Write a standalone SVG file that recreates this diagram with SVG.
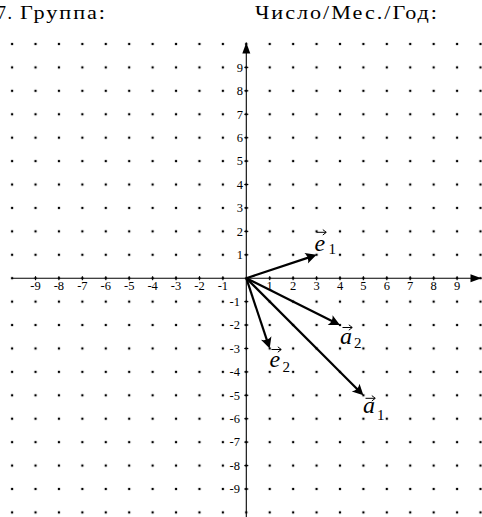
<svg xmlns="http://www.w3.org/2000/svg" width="482" height="517" viewBox="0 0 482 517">
<style>
.hdr{font-family:"Liberation Serif","DejaVu Serif",serif;font-size:18px;letter-spacing:1.6px;fill:#000}
.tk{font-family:"Liberation Serif","DejaVu Serif",serif;font-size:12.5px;fill:#000}
.xl{text-anchor:middle}
.yl{text-anchor:end}
.vl{font-family:"Liberation Serif","DejaVu Serif",serif;font-style:italic;font-size:24px;fill:#000}
.sb{font-family:"Liberation Serif","DejaVu Serif",serif;font-size:15px;fill:#000}
.axis{stroke:#000;stroke-width:1.1;fill:none}
.tick{stroke:#000;stroke-width:1;fill:none}
.vec{stroke:#000;stroke-width:2.2;fill:none;marker-end:url(#stealth)}
.acc{stroke:#000;stroke-width:1;fill:none}
</style>
<defs>
<pattern id="dots" patternUnits="userSpaceOnUse" x="0.39" y="32.29" width="23.42" height="23.42">
<rect x="10.61" y="10.61" width="2.2" height="2.2" fill="#000"/>
</pattern>
<marker id="axarrow" markerUnits="userSpaceOnUse" viewBox="-12 -5 13 10" refX="0" refY="0" markerWidth="13" markerHeight="10" orient="auto">
<path d="M0,0 L-11,-4 L-11,4 Z" fill="#000"/>
</marker>
<marker id="stealth" markerUnits="userSpaceOnUse" viewBox="-1 -7 14 14" refX="7" refY="0" markerWidth="14" markerHeight="14" orient="auto">
<path d="M11,0 L0,-5.5 Q3.5,0 0,5.5 Z" fill="#000"/>
</marker>
<g id="accent">
<path class="acc" d="M0,0 H9.5 M6.3,-2.7 L9.8,0 L6.3,2.7"/>
</g>
</defs>
<rect width="482" height="517" fill="#fff"/>

<g id="header">
<text class="hdr" x="-3" y="19">7.</text>
<text class="hdr" x="20" y="19" textLength="87" lengthAdjust="spacingAndGlyphs">Группа:</text>
<text class="hdr" x="255" y="19" textLength="184" lengthAdjust="spacingAndGlyphs">Число/Мес./Год:</text>
</g>

<g id="grid">
<rect x="0" y="32" width="482" height="485" fill="url(#dots)"/>
</g>

<g id="axes">
<path class="axis" d="M12.1,278.2 H481.5" marker-end="url(#axarrow)"/>
<path class="axis" d="M246.3,517 V42.5" marker-end="url(#axarrow)"/>
<path class="tick" d="M35.5,276.2v4 M58.9,276.2v4 M82.4,276.2v4 M105.8,276.2v4 M129.2,276.2v4 M152.6,276.2v4 M176,276.2v4 M199.5,276.2v4 M222.9,276.2v4 M269.7,276.2v4 M293.1,276.2v4 M316.6,276.2v4 M340,276.2v4 M363.4,276.2v4 M386.8,276.2v4 M410.2,276.2v4 M433.7,276.2v4 M457.1,276.2v4"/>
<path class="tick" d="M244.3,67.4h4 M244.3,90.8h4 M244.3,114.3h4 M244.3,137.7h4 M244.3,161.1h4 M244.3,184.5h4 M244.3,207.9h4 M244.3,231.4h4 M244.3,254.8h4 M244.3,301.6h4 M244.3,325h4 M244.3,348.5h4 M244.3,371.9h4 M244.3,395.3h4 M244.3,418.7h4 M244.3,442.1h4 M244.3,465.6h4 M244.3,489h4"/>
</g>

<g id="xlabels" class="tk xl">
<text x="35.5" y="289.5">-9</text>
<text x="58.9" y="289.5">-8</text>
<text x="82.4" y="289.5">-7</text>
<text x="105.8" y="289.5">-6</text>
<text x="129.2" y="289.5">-5</text>
<text x="152.6" y="289.5">-4</text>
<text x="176" y="289.5">-3</text>
<text x="199.5" y="289.5">-2</text>
<text x="222.9" y="289.5">-1</text>
<text x="269.7" y="289.5">1</text>
<text x="293.1" y="289.5">2</text>
<text x="316.6" y="289.5">3</text>
<text x="340" y="289.5">4</text>
<text x="363.4" y="289.5">5</text>
<text x="386.8" y="289.5">6</text>
<text x="410.2" y="289.5">7</text>
<text x="433.7" y="289.5">8</text>
<text x="457.1" y="289.5">9</text>
</g>

<g id="ylabels" class="tk yl">
<text x="243" y="71.7">9</text>
<text x="243" y="95.1">8</text>
<text x="243" y="118.6">7</text>
<text x="243" y="142">6</text>
<text x="243" y="165.4">5</text>
<text x="243" y="188.8">4</text>
<text x="243" y="212.2">3</text>
<text x="243" y="235.7">2</text>
<text x="243" y="259.1">1</text>
<text x="240" y="305.9">-1</text>
<text x="240" y="329.3">-2</text>
<text x="240" y="352.8">-3</text>
<text x="240" y="376.2">-4</text>
<text x="240" y="399.6">-5</text>
<text x="240" y="423">-6</text>
<text x="240" y="446.4">-7</text>
<text x="240" y="469.9">-8</text>
<text x="240" y="493.3">-9</text>
</g>

<g id="connectors">
<path id="v-e1" class="vec" d="M246.3,278.2 L312.8,256.1"/>
<path id="v-a2" class="vec" d="M246.3,278.2 L336.4,323.2"/>
<path id="v-e2" class="vec" d="M246.3,278.2 L268.4,344.7"/>
<path id="v-a1" class="vec" d="M246.3,278.2 L360.6,392.5"/>
</g>

<g id="label-e1">
<text class="vl" x="314.5" y="250.5">e</text>
<text class="sb" x="328.5" y="254">1</text>
<use href="#accent" x="316.5" y="232.3"/>
</g>
<g id="label-a2">
<text class="vl" x="340" y="343.5">a</text>
<text class="sb" x="354" y="347.5">2</text>
<use href="#accent" x="342.5" y="327.5"/>
</g>
<g id="label-e2">
<text class="vl" x="269.5" y="366.8">e</text>
<text class="sb" x="282.5" y="371.5">2</text>
<use href="#accent" x="271.5" y="349.5"/>
</g>
<g id="label-a1">
<text class="vl" x="363" y="413.3">a</text>
<text class="sb" x="377" y="419.5">1</text>
<use href="#accent" x="365.5" y="398.3"/>
</g>
</svg>
